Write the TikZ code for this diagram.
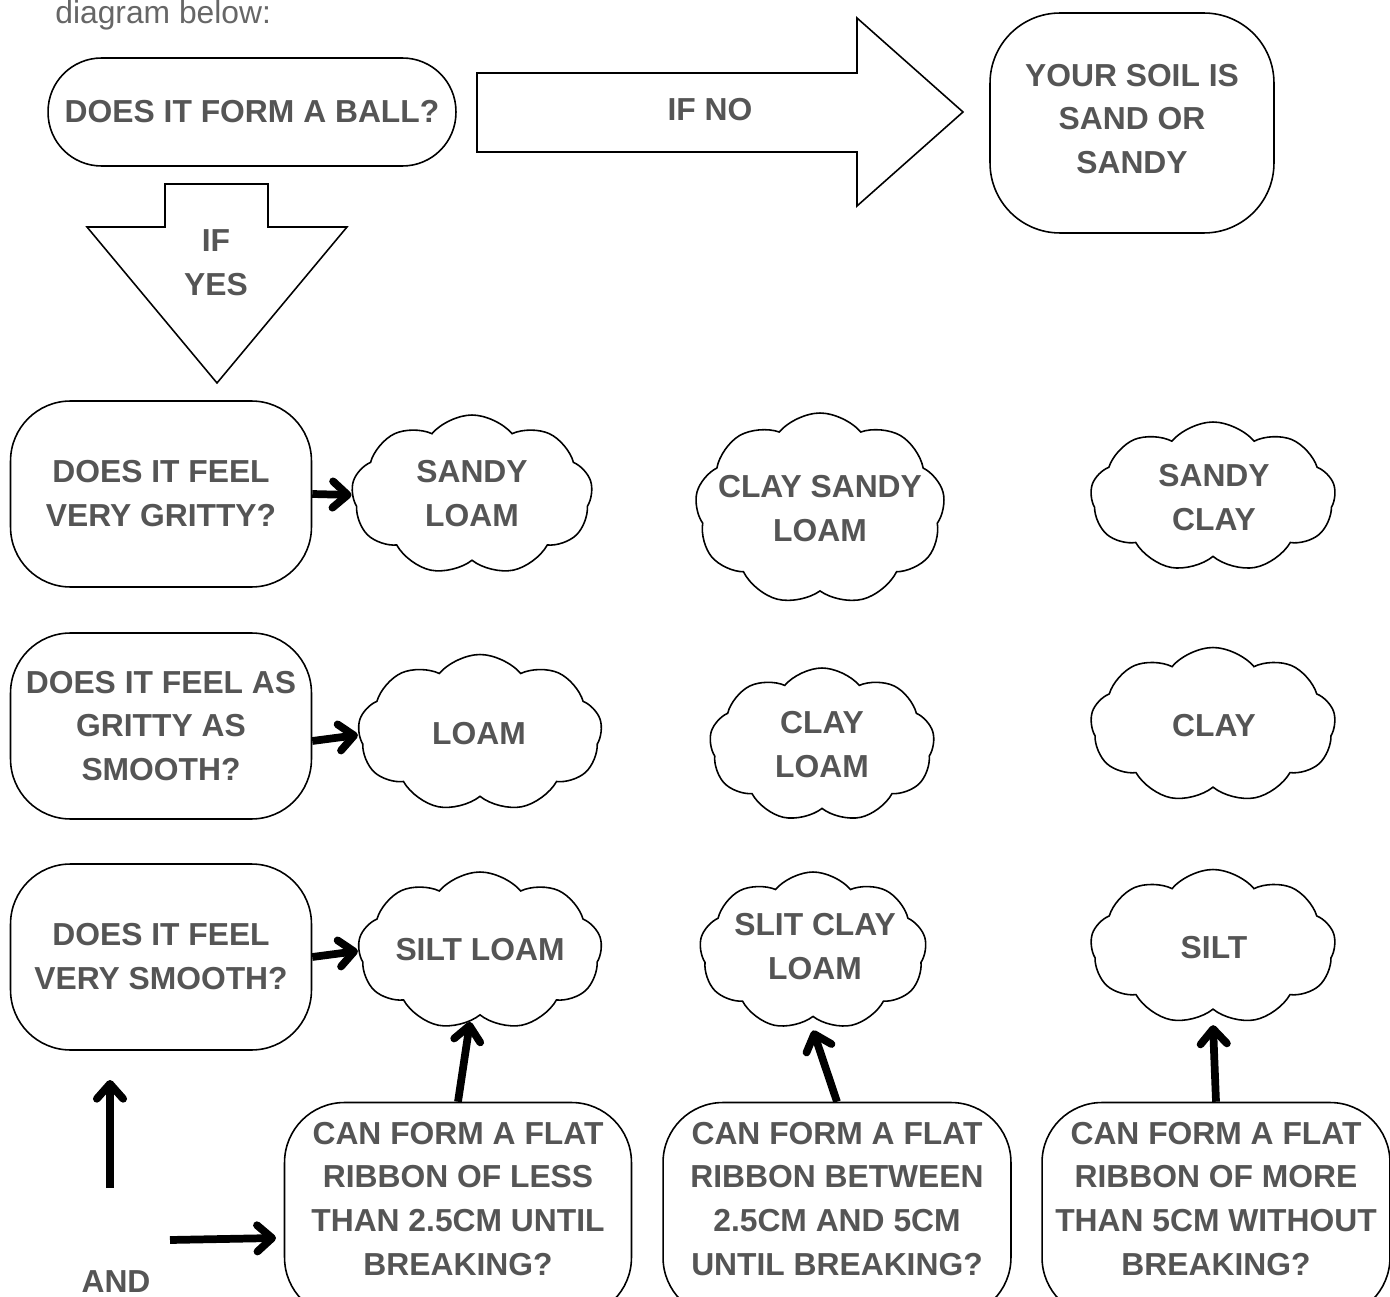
\documentclass[tikz,border=0pt]{standalone}
\usepackage{fontspec}
\setmainfont{Liberation Sans}
\usetikzlibrary{arrows.meta, positioning, shapes.symbols}
\definecolor{txtgray}{HTML}{555555}

\begin{document}
\begin{tikzpicture}[
  x=0.02cm, y=-0.02cm,
  lbl/.style={text=txtgray, font=\fontsize{18.1}{25}\selectfont\bfseries,
              align=center, inner sep=0pt},
  pill/.style={draw, line width=0.9pt, fill=white, lbl},
  puff/.style={draw, cloud, cloud puffs=9, cloud puff arc=100, cloud ignores aspect,
               line width=0.9pt, inner sep=0pt},
  blockarrow/.style={draw, line width=0.9pt, line join=miter},
  arrow/.style={line width=4.4pt, -{Straight Barb[round, length=8.5pt, width=15pt]}}
]
\fill[white] (0,0) rectangle (1390,1297);
\useasboundingbox (0,0) rectangle (1390,1297);

\node[anchor=base west, inner sep=0pt, text=txtgray!90,
      font=\fontsize{18.1}{25}\selectfont] (intro) at (55,24) {diagram below:};

% top row
\node[pill, minimum width=8.16cm, minimum height=2.16cm, rounded corners=1.07cm]
  (ball) at (252,112) {DOES IT FORM A BALL?};
\node[pill, minimum width=5.68cm, minimum height=4.4cm, rounded corners=1.4cm]
  (sand) at (1132,123) {};
\node[lbl] (sandtxt) at (1132,119) {YOUR SOIL IS\\SAND OR\\SANDY};

\draw[blockarrow] (477,73) -- (857,73) -- (857,18) -- (963,112)
  -- (857,206) -- (857,152) -- (477,152) -- cycle;
\node[lbl] (ifno) at (710,110) {IF NO};

\draw[blockarrow] (165,184) -- (268,184) -- (268,227) -- (347,227)
  -- (217,383) -- (87,227) -- (165,227) -- cycle;
\node[lbl] (ifyes) at (216,263) {IF\\YES};

% questions
\node[pill, minimum width=6.02cm, minimum height=3.72cm, rounded corners=1.2cm]
  (gritty) at (161,494) {DOES IT FEEL\\VERY GRITTY?};
\node[pill, minimum width=6.02cm, minimum height=3.72cm, rounded corners=1.2cm]
  (half) at (161,726) {DOES IT FEEL AS\\GRITTY AS\\SMOOTH?};
\node[pill, minimum width=6.02cm, minimum height=3.72cm, rounded corners=1.2cm]
  (smooth) at (161,957) {DOES IT FEEL\\VERY SMOOTH?};

% soil types
\node[puff, minimum width=4.82cm, minimum height=3.2cm] (sandyloam) at (472,495) {};
\node[lbl] (sandyloamtxt) at (472,494) {SANDY\\LOAM};
\node[puff, minimum width=4.88cm, minimum height=3.14cm] (loam) at (480,733) {};
\node[lbl] (loamtxt) at (479,734) {LOAM};
\node[puff, minimum width=4.88cm, minimum height=3.16cm] (siltloam) at (480,951) {};
\node[lbl] (siltloamtxt) at (480,950) {SILT LOAM};

\node[puff, minimum width=5.0cm, minimum height=3.84cm] (claysandy) at (820,509) {};
\node[lbl] (claysandytxt) at (820,509) {CLAY SANDY\\LOAM};
\node[puff, minimum width=4.5cm, minimum height=3.08cm] (clayloam) at (822,745) {};
\node[lbl] (clayloamtxt) at (822,745) {CLAY\\LOAM};
\node[puff, minimum width=4.54cm, minimum height=3.16cm] (slitclay) at (813,951) {};
\node[lbl] (slitclaytxt) at (815,947) {SLIT CLAY\\LOAM};

\node[puff, minimum width=4.9cm, minimum height=3.0cm] (sandyclay) at (1213,497) {};
\node[lbl] (sandyclaytxt) at (1214,498) {SANDY\\CLAY};
\node[puff, minimum width=4.9cm, minimum height=3.1cm] (clay) at (1213,725) {};
\node[lbl] (claytxt) at (1214,726) {CLAY};
\node[puff, minimum width=4.9cm, minimum height=3.1cm] (silt) at (1213,947) {};
\node[lbl] (silttxt) at (1214,948) {SILT};

% ribbons
\node[pill, minimum width=6.94cm, minimum height=4.3cm, rounded corners=1.2cm]
  (ribbonlow) at (458,1210) {};
\node[lbl] (ribbonlowtxt) at (458,1199)
  {CAN FORM A FLAT\\RIBBON OF LESS\\THAN 2.5CM UNTIL\\BREAKING?};
\node[pill, minimum width=6.96cm, minimum height=4.3cm, rounded corners=1.2cm]
  (ribbonmid) at (837,1210) {};
\node[lbl] (ribbonmidtxt) at (837,1199)
  {CAN FORM A FLAT\\RIBBON BETWEEN\\2.5CM AND 5CM\\UNTIL BREAKING?};
\node[pill, minimum width=6.96cm, minimum height=4.3cm, rounded corners=1.2cm]
  (ribbonhigh) at (1216,1210) {};
\node[lbl] (ribbonhightxt) at (1216,1199)
  {CAN FORM A FLAT\\RIBBON OF MORE\\THAN 5CM WITHOUT\\BREAKING?};

\node[lbl, anchor=base] (and) at (116,1292) {AND};
\coordinate (upfoot) at (110,1188);
\coordinate (uptip)  at (110,1080);
\coordinate (rightfoot) at (170,1240);
\coordinate (righttip)  at (276,1238);

% connectors
\draw[arrow] (gritty.east) -- (sandyloam.west);
\draw[arrow] ([yshift=-0.3cm]half.east) -- ([yshift=-0.04cm]loam.west);
\draw[arrow] (smooth.east) -- (siltloam.west);
\draw[arrow] (ribbonlow.north) -- ([xshift=-0.2cm, yshift=-0.12cm]siltloam.south);
\draw[arrow] (ribbonmid.north) -- ([yshift=-0.26cm]slitclay.south);
\draw[arrow] (ribbonhigh.north) -- ([yshift=-0.3cm]silt.south);
\draw[arrow] (upfoot) -- (uptip);
\draw[arrow] (rightfoot) -- (righttip);
\end{tikzpicture}
\end{document}
